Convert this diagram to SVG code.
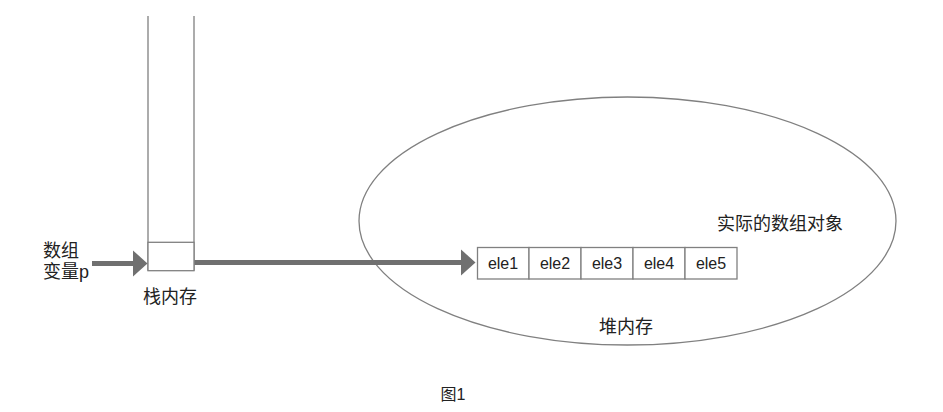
<svg xmlns="http://www.w3.org/2000/svg" width="943" height="412" viewBox="0 0 943 412">
<style>
.ln{fill:none;stroke:#808080;stroke-width:1.3}
.cell{fill:#fff;stroke:#808080;stroke-width:1.3}
.ar{fill:none;stroke:#707070;stroke-width:5}
.t{font-family:"Liberation Sans","Noto Sans CJK SC",sans-serif;font-size:18px;fill:#222}
.e{font-family:"Liberation Sans","Noto Sans CJK SC",sans-serif;font-size:16px;fill:#222;text-anchor:middle}
</style>
<defs>
<marker id="ah" markerWidth="3" markerHeight="5.4" refX="0.1" refY="2.7" orient="auto" markerUnits="strokeWidth" viewBox="0 0 3 5.4">
<path d="M0,0 L3,2.7 L0,5.4 Z" fill="#707070"/>
</marker>
</defs>
<g id="heap">
<ellipse cx="627.5" cy="221" rx="268.5" ry="124" class="ln"/>
<text class="t" x="626" y="333" text-anchor="middle">堆内存</text>
<text class="t" x="717" y="230">实际的数组对象</text>
</g>
<g id="stack">
<path class="ln" d="M148,16 V270.7 M194,16 V270.7"/>
<rect class="cell" x="148" y="242.3" width="46" height="28.4"/>
<text class="t" x="170" y="303" text-anchor="middle">栈内存</text>
</g>
<g id="var">
<text class="t" x="43" y="257">数组</text>
<text class="t" x="43" y="278">变量p</text>
</g>
<g id="array">
<rect class="cell" x="477.5" y="247.5" width="51.5" height="31.5"/>
<rect class="cell" x="529" y="247.5" width="52" height="31.5"/>
<rect class="cell" x="581" y="247.5" width="52" height="31.5"/>
<rect class="cell" x="633" y="247.5" width="52" height="31.5"/>
<rect class="cell" x="685" y="247.5" width="52" height="31.5"/>
<text class="e" x="503" y="269">ele1</text>
<text class="e" x="555" y="269">ele2</text>
<text class="e" x="607" y="269">ele3</text>
<text class="e" x="659" y="269">ele4</text>
<text class="e" x="711" y="269">ele5</text>
</g>
<g id="connectors">
<line class="ar" x1="92" y1="263.5" x2="133" y2="263.5" marker-end="url(#ah)"/>
<line class="ar" x1="194.5" y1="262.5" x2="461" y2="262.5" marker-end="url(#ah)"/>
</g>
<g id="caption">
<text x="453" y="400" text-anchor="middle" style="font-family:'Liberation Sans','Noto Sans CJK SC',sans-serif;font-size:16px;fill:#222">图1</text>
</g>
</svg>
